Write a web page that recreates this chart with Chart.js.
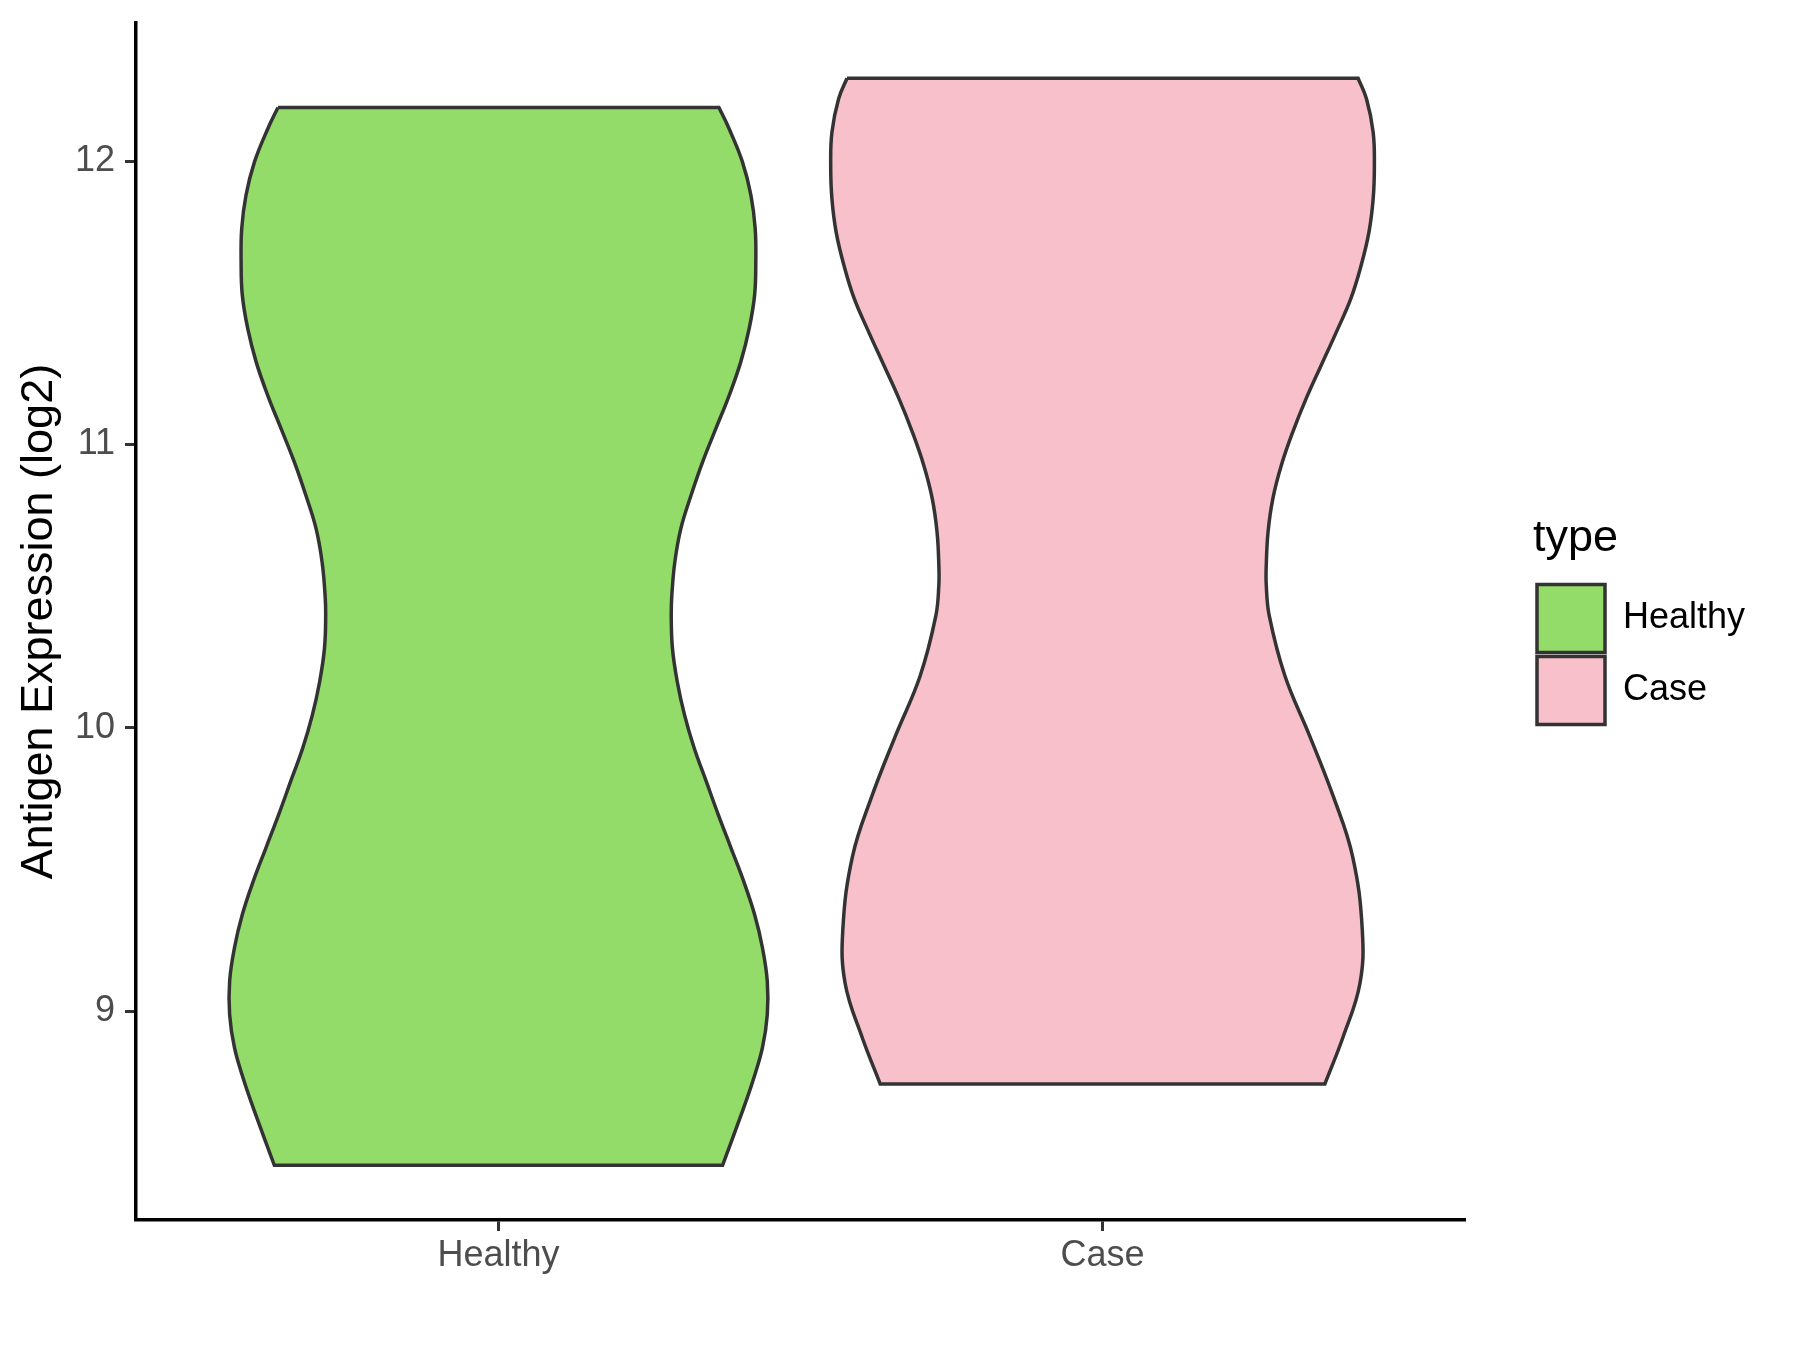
<!DOCTYPE html>
<html>
<head>
<meta charset="utf-8">
<script src="https://cdn.jsdelivr.net/npm/chart.js@4.4.1/dist/chart.umd.min.js"></script>
<style>
  html, body { margin: 0; padding: 0; background: #ffffff; }
  #wrap { width: 1800px; height: 1350px; }
</style>
</head>
<body>
<div id="wrap"><canvas id="c" width="1800" height="1350"></canvas></div>
<script>
// ---- data ----
const categories = ['Healthy', 'Case'];
const yTicks = [9, 10, 11, 12];
const yAxisMin = 8.263;
const yAxisMax = 12.488;

// violin outline: expression value (top to bottom) and half-width (in category units)
const healthyY = [12.190, 12.114, 11.997, 11.879, 11.762, 11.644, 11.527, 11.409, 11.291, 11.174, 11.057, 10.939, 10.822, 10.704, 10.586, 10.469, 10.399, 10.281, 10.163, 10.046, 9.929, 9.811, 9.693, 9.576, 9.458, 9.341, 9.224, 9.106, 8.988, 8.871, 8.753, 8.636, 8.456];
const healthyHalfWidth = [0.365, 0.382, 0.404, 0.418, 0.425, 0.426, 0.424, 0.415, 0.401, 0.382, 0.360, 0.338, 0.319, 0.302, 0.292, 0.287, 0.286, 0.288, 0.296, 0.308, 0.324, 0.344, 0.364, 0.385, 0.406, 0.424, 0.437, 0.445, 0.445, 0.437, 0.421, 0.402, 0.371];
const caseY = [12.293, 12.220, 12.102, 11.985, 11.868, 11.750, 11.632, 11.515, 11.397, 11.280, 11.162, 11.045, 10.927, 10.810, 10.692, 10.575, 10.504, 10.395, 10.183, 9.971, 9.758, 9.546, 9.286, 9.097, 8.908, 8.743];
const caseHalfWidth = [0.423, 0.437, 0.448, 0.450, 0.448, 0.441, 0.428, 0.411, 0.387, 0.362, 0.337, 0.315, 0.296, 0.282, 0.274, 0.271, 0.271, 0.276, 0.302, 0.343, 0.382, 0.414, 0.430, 0.426, 0.398, 0.368];

const FONT = "'Liberation Sans', Arial, Helvetica, sans-serif";
Chart.defaults.font.family = FONT;

const TICK_SIZE = 36;
const TITLE_SIZE = 45;
const BOX = 68;
const LEGEND_PAD = 4;
const AREA_RIGHT = 1465;
const GAP = 68;

// legend natural width, so the plot area ends where the reference's does
const mctx = document.createElement('canvas').getContext('2d');
mctx.font = TICK_SIZE + "px " + FONT;
const labelW = Math.max(...categories.map((c) => mctx.measureText(c).width));
const legendW = LEGEND_PAD + BOX + TICK_SIZE / 2 + labelW + 10;
const padRight = Math.max(0, 1800 - AREA_RIGHT - GAP - legendW);

function violinOutline(center, ys, hws) {
  const n = ys.length;
  const pts = [];
  pts.push({x: center - hws[0], y: ys[0]});
  for (let i = 0; i < n; i++) pts.push({x: center - hws[i], y: ys[i]});
  pts.push({x: center - hws[n - 1], y: ys[n - 1]});
  pts.push({x: center + hws[n - 1], y: ys[n - 1]});
  for (let i = n - 1; i >= 0; i--) pts.push({x: center + hws[i], y: ys[i]});
  pts.push({x: center + hws[0], y: ys[0]});
  pts.push({x: center - hws[0], y: ys[0]});
  pts.push({x: center - hws[0], y: ys[0]});
  return pts;
}

const violinFill = {
  id: 'violinFill',
  beforeDatasetDraw(chart, args) {
    const line = args.meta.dataset;
    if (!line || !line.points || !line.points.length) return;
    line.updateControlPoints(chart.chartArea, 'x');
    const ctx = chart.ctx;
    ctx.save();
    ctx.beginPath();
    line.path(ctx);
    ctx.closePath();
    ctx.fillStyle = chart.data.datasets[args.index].backgroundColor;
    ctx.fill();
    ctx.restore();
  }
};

const tickGrid = {
  display: true,
  drawOnChartArea: false,
  drawTicks: true,
  tickLength: 11,
  tickWidth: 3,
  tickColor: '#333333'
};
const axisBorder = { display: true, color: '#000000', width: 3.5 };

function violinDataset(label, data, color) {
  return {
    label: label,
    data: data,
    backgroundColor: color,
    borderColor: '#333333',
    borderWidth: 3.5,
    fill: false,
    tension: 0.4,
    pointRadius: 0,
    pointHoverRadius: 0,
    borderJoinStyle: 'miter'
  };
}

new Chart(document.getElementById('c'), {
  type: 'line',
  data: {
    datasets: [
      violinDataset(categories[0], violinOutline(0, healthyY, healthyHalfWidth), '#94DC6A'),
      violinDataset(categories[1], violinOutline(1, caseY, caseHalfWidth), '#F7C0CB')
    ]
  },
  options: {
    responsive: false,
    animation: false,
    events: [],
    layout: { autoPadding: false, padding: { top: 23, right: padRight, bottom: 0, left: 0 } },
    scales: {
      x: {
        type: 'linear',
        min: -0.6,
        max: 1.6,
        afterBuildTicks: (s) => { s.ticks = categories.map((c, i) => ({ value: i })); },
        ticks: {
          callback: (v) => categories[v] !== undefined ? categories[v] : '',
          color: '#4D4D4D',
          font: { size: TICK_SIZE, family: FONT },
          padding: 3,
          autoSkip: false,
          maxRotation: 0
        },
        grid: tickGrid,
        border: axisBorder,
        afterFit: (s) => { s.height = 130; s.paddingLeft = 0; s.paddingRight = 0; }
      },
      y: {
        type: 'linear',
        position: 'left',
        min: yAxisMin,
        max: yAxisMax,
        afterBuildTicks: (s) => { s.ticks = yTicks.map((v) => ({ value: v })); },
        ticks: {
          callback: (v) => String(v),
          color: '#4D4D4D',
          font: { size: TICK_SIZE, family: FONT },
          padding: 10
        },
        grid: tickGrid,
        border: axisBorder,
        title: {
          display: true,
          text: 'Antigen Expression (log2)',
          color: '#000000',
          font: { size: TITLE_SIZE, family: FONT },
          padding: { top: 13, bottom: 0 }
        },
        afterFit: (s) => { s.width = 136; s.paddingTop = 0; s.paddingBottom = 0; }
      },
      yGap: {
        type: 'linear',
        position: 'right',
        display: true,
        grid: { display: false, drawTicks: false },
        border: { display: false },
        ticks: { display: false },
        afterFit: (s) => { s.width = GAP; s.paddingTop = 0; s.paddingBottom = 0; }
      }
    },
    plugins: {
      tooltip: { enabled: false },
      legend: {
        display: true,
        position: 'right',
        align: 'center',
        fullSize: false,
        title: {
          display: true,
          text: 'type',
          position: 'start',
          color: '#000000',
          font: { size: TITLE_SIZE, family: FONT },
          padding: { top: 2, bottom: 10 }
        },
        labels: {
          boxWidth: BOX,
          boxHeight: BOX,
          padding: LEGEND_PAD,
          color: '#000000',
          font: { size: TICK_SIZE, family: FONT }
        }
      }
    }
  },
  plugins: [violinFill]
});
</script>
</body>
</html>
